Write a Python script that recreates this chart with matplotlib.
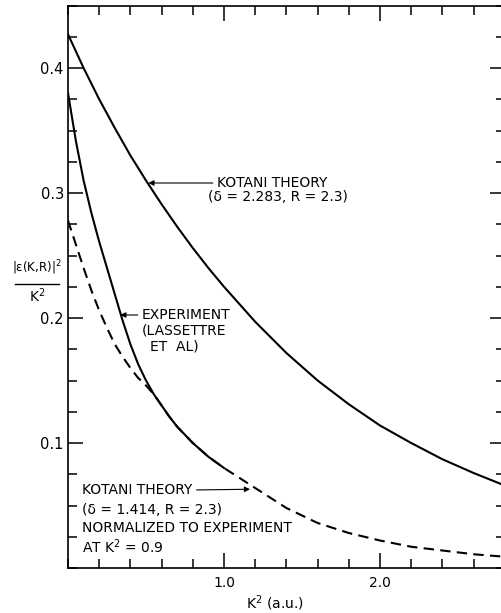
import matplotlib
matplotlib.use("Agg")
import matplotlib.pyplot as plt
from matplotlib.lines import Line2D
from matplotlib.ticker import FixedLocator, MultipleLocator, NullFormatter

plt.rcParams['font.family'] = ['DejaVu Sans']
plt.rcParams['mathtext.fontset'] = 'dejavusans'

# --- data ---
# Kotani theory (delta = 2.283, R = 2.3)
kot_x = [0.0, 0.1, 0.2, 0.3, 0.4, 0.5, 0.6, 0.7, 0.8, 0.9, 1.0,
         1.2, 1.4, 1.6, 1.8, 2.0, 2.2, 2.4, 2.6, 2.8]
kot_y = [0.427, 0.400, 0.375, 0.352, 0.330, 0.310, 0.291, 0.273, 0.256, 0.240, 0.225,
         0.197, 0.172, 0.150, 0.131, 0.114, 0.100, 0.087, 0.076, 0.066]

# experiment (Lassettre et al)
exp_x = [0.0, 0.05, 0.1, 0.15, 0.2, 0.25, 0.3, 0.35, 0.4, 0.45, 0.5,
         0.55, 0.6, 0.65, 0.7, 0.8, 0.9, 1.0]
exp_y = [0.380, 0.342, 0.310, 0.284, 0.261, 0.240, 0.219, 0.198, 0.179, 0.163, 0.150,
         0.139, 0.130, 0.121, 0.113, 0.100, 0.089, 0.080]

# Kotani theory (delta = 1.414, R = 2.3) normalized to experiment at K^2 = 0.9
norm_x = [0.0, 0.05, 0.1, 0.15, 0.2, 0.25, 0.3, 0.35, 0.4, 0.45, 0.5, 0.55,
          0.6, 0.65, 0.7, 0.8, 0.9, 1.0, 1.1, 1.2, 1.4, 1.6, 1.8, 2.0,
          2.2, 2.4, 2.6, 2.8]
norm_y = [0.278, 0.259, 0.240, 0.222, 0.206, 0.192, 0.179, 0.169, 0.160, 0.152, 0.146, 0.139,
          0.130, 0.121, 0.113, 0.100, 0.089, 0.080, 0.072, 0.064, 0.048, 0.036, 0.028, 0.022,
          0.017, 0.014, 0.011, 0.009]

y_major = [0.1, 0.2, 0.3, 0.4]
y_labels = ["0.1", "0.2", "0.3", "0.4"]
x_major = [1.0, 2.0]
x_labels = ["1.0", "2.0"]

W, H = 502, 613
fig = plt.figure(figsize=(W / 100, H / 100), dpi=100)
ax = fig.add_axes([68 / W, 45 / H, 436.8 / W, 562.5 / H])

ax.plot(norm_x, norm_y, color='black', lw=1.5, dashes=(5, 3))
ax.plot(kot_x, kot_y, color='black', lw=1.5)
ax.plot(exp_x, exp_y, color='black', lw=1.5)

ax.set_xlim(0, 2.8)
ax.set_ylim(0, 0.45)

ax.xaxis.set_major_locator(FixedLocator(x_major))
ax.set_xticklabels(x_labels)
ax.xaxis.set_minor_locator(MultipleLocator(0.2))
ax.yaxis.set_major_locator(FixedLocator(y_major))
ax.set_yticklabels(y_labels)
ax.yaxis.set_minor_locator(MultipleLocator(0.025))
ax.xaxis.set_minor_formatter(NullFormatter())
ax.yaxis.set_minor_formatter(NullFormatter())

ax.tick_params(which='both', direction='in', top=True, right=True, width=1.1,
               labelsize=10)
ax.tick_params(axis='y', labelsize=10.5)
ax.tick_params(which='major', length=11)
ax.tick_params(which='minor', length=6.5)
ax.tick_params(axis='x', which='major', pad=6)
ax.tick_params(axis='y', which='major', pad=3)
for s in ax.spines.values():
    s.set_linewidth(1.2)

fs = 10
arrow = dict(arrowstyle='-|>', color='black', lw=0.8, mutation_scale=8,
             shrinkA=1, shrinkB=0, relpos=(0, 0.5))

# upper Kotani label
ax.annotate("KOTANI THEORY", xy=(0.515, 0.308), xytext=(0.955, 0.308),
            fontsize=fs, ha='left', va='center', arrowprops=arrow)
ax.text(0.897, 0.297, "(δ = 2.283, R = 2.3)", fontsize=fs, ha='left', va='center')

# experiment label
ax.annotate("EXPERIMENT", xy=(0.335, 0.2024), xytext=(0.474, 0.2024),
            fontsize=fs, ha='left', va='center', arrowprops=arrow)
ax.text(0.474, 0.190, "(LASSETTRE", fontsize=fs, ha='left', va='center')
ax.text(0.526, 0.177, "ET  AL)", fontsize=fs, ha='left', va='center')

# lower Kotani label
arrow_r = dict(arrow, relpos=(1, 0.5))
ax.annotate("KOTANI THEORY", xy=(1.167, 0.063), xytext=(0.09, 0.0624),
            fontsize=fs, ha='left', va='center', arrowprops=arrow_r)
ax.text(0.09, 0.0464, "(δ = 1.414, R = 2.3)", fontsize=fs, ha='left', va='center')
ax.text(0.09, 0.032, "NORMALIZED TO EXPERIMENT", fontsize=fs, ha='left', va='center')
ax.text(0.09, 0.0168, "AT K$^2$ = 0.9", fontsize=fs, ha='left', va='center')

# y label as a stacked fraction
fig.text(37 / W, 1 - 268 / H, "|ε(K,R)|$^2$", fontsize=8.5, ha='center', va='center')
fig.add_artist(Line2D([15 / W, 59 / W], [1 - 284 / H, 1 - 284 / H],
                      transform=fig.transFigure, color='black', lw=1.0))
fig.text(37 / W, 1 - 296 / H, "K$^2$", fontsize=fs, ha='center', va='center')

# x label
fig.text(275 / W, 1 - 603 / H, "K$^2$ (a.u.)", fontsize=fs, ha='center', va='center')

fig.savefig("out.png", dpi=100)
